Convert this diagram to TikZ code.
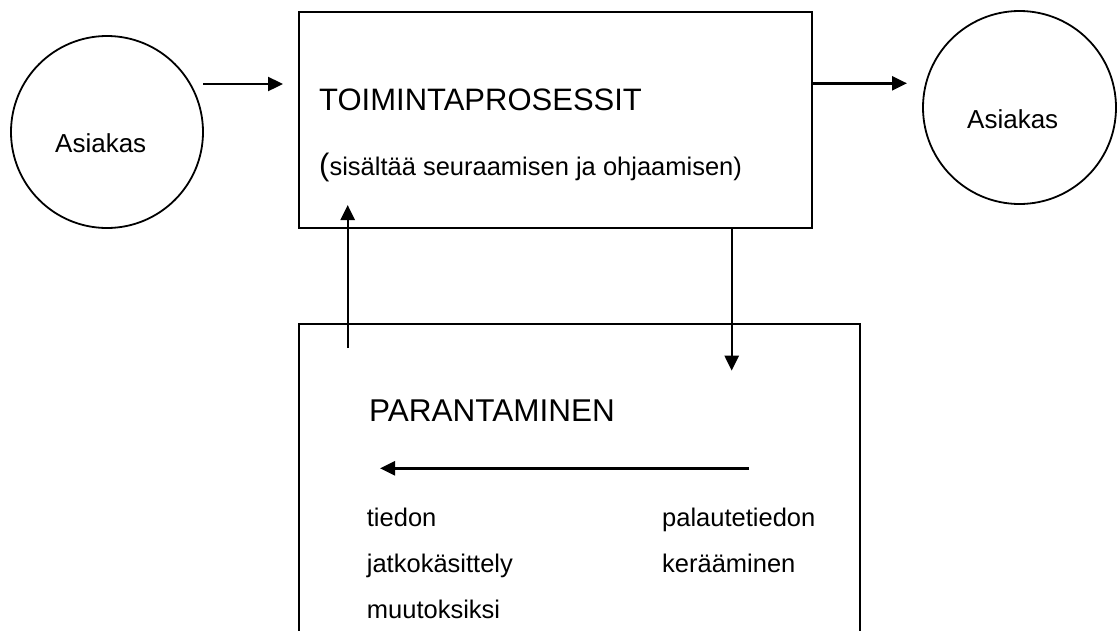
\documentclass[tikz,border=0pt]{standalone}
\usepackage{fontspec}
\setmainfont{Liberation Sans}
\usetikzlibrary{arrows.meta}
\begin{document}
\begin{tikzpicture}[x=1pt,y=-1pt,
  txt/.style={inner sep=0pt, anchor=base west, font=\fontsize{25.5}{30}\selectfont},
  big/.style={inner sep=0pt, anchor=base west, font=\fontsize{31}{36}\selectfont},
  lbl/.style={inner sep=0pt, anchor=base west, font=\fontsize{26}{30}\selectfont},
  circ/.style={circle, draw, line width=1.8pt, inner sep=0pt},
  arr/.style={line width=2.4pt, -{Triangle[length=15pt,width=14pt]}},
  boxline/.style={line width=2.1pt}]
\useasboundingbox (0,0) rectangle (1117,630);
% circles
\node[circ, minimum size=192pt] (c1) at (107,132) {};
\node[lbl] (l1) at (55,152) {Asiakas};
\node[circ, minimum size=193pt] (c2) at (1019.5,107.5) {};
\node[lbl] (l2) at (967,128) {Asiakas};
% top box
\node[draw, boxline, inner sep=0pt, minimum width=512.7pt, minimum height=215.7pt] (top) at (555.35,119.85) {};
\node[big] (t1) at (319,110) {TOIMINTAPROSESSIT};
\node[txt] (t2) at (319,175) {{\fontsize{31}{36}\selectfont(}sisältää seuraamisen ja ohjaamisen)};
% bottom box (open at the bottom)
\node[inner sep=0pt, minimum width=561pt, minimum height=308pt] (par) at (579.5,478) {};
\draw[boxline] (par.south west) |- (par.north east) -- (par.south east);
\node[big, font=\fontsize{31.5}{36}\selectfont] (p1) at (369,421.7) {PARANTAMINEN};
\node[txt] (p2) at (366.7,526) {tiedon};
\node[txt] (p3) at (366.7,572) {jatkokäsittely};
\node[txt] (p4) at (366.7,618) {muutoksiksi};
\node[txt] (p5) at (662,526) {palautetiedon};
\node[txt] (p6) at (662,572) {kerääminen};
% arrows
\coordinate (a1s) at (203,84);
\coordinate (a1e) at (283,84);
\draw[arr] (a1s) -- (a1e);
\coordinate (a2e) at (907,83.3);
\draw[arr] (top.east |- a2e) -- (a2e);
\coordinate (a3s) at (347.7,348);
\coordinate (a3e) at (347.7,205);
\draw[arr] (a3s) -- (a3e);
\coordinate (a4e) at (731.7,370.7);
\draw[arr] (top.south -| a4e) -- (a4e);
\coordinate (a5s) at (749,468.3);
\coordinate (a5e) at (380,468.3);
\draw[arr] (a5s) -- (a5e);
\end{tikzpicture}
\end{document}
